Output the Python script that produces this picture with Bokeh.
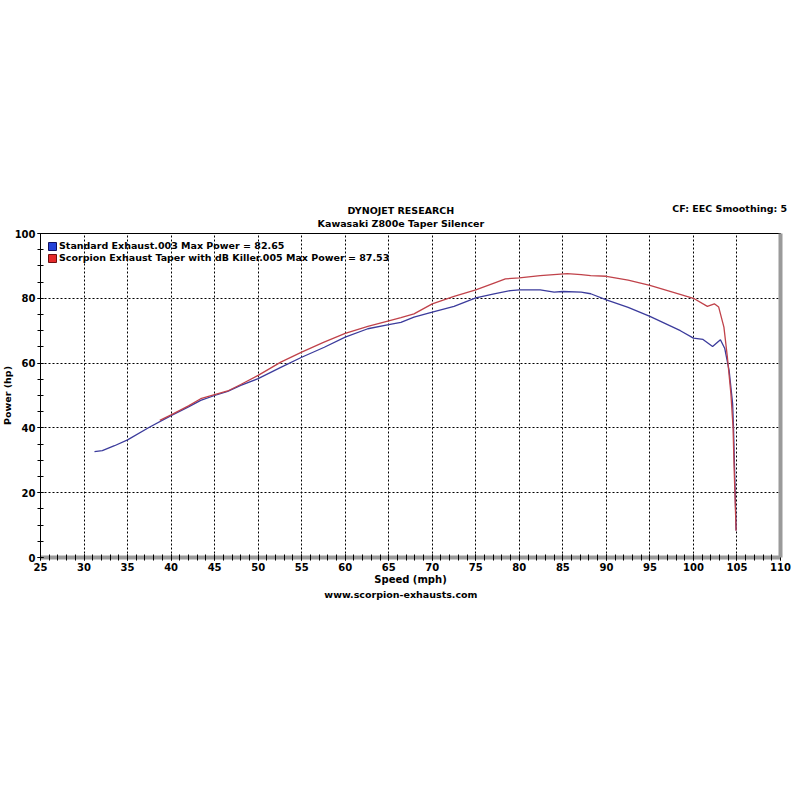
import numpy as np
from bokeh.plotting import figure
from bokeh.models import (Range1d, FixedTicker, Legend, LegendItem, Label, LinearAxis)
from bokeh.embed import file_html
from bokeh.resources import INLINE

# ---- data ----
std_speed = [31.2, 32.1, 33.5, 35.0, 37.5, 40.0, 42.0, 43.4, 45.0, 46.5, 48.0, 50.0,
             52.6, 55.0, 57.6, 60.0, 62.6, 65.0, 66.4, 67.9, 70.0, 72.5, 75.0, 77.1,
             79.0, 80.0, 82.4, 84.0, 85.0, 87.1, 88.2, 90.0, 92.5, 95.0, 98.5, 100.0,
             101.1, 102.2, 103.1, 103.6, 104.1, 104.5, 104.6, 104.8, 104.9]
std_power = [32.7, 33.0, 34.5, 36.3, 40.2, 43.8, 46.5, 48.5, 50.0, 51.3, 53.1, 55.2,
             58.7, 61.8, 64.9, 68.0, 70.6, 71.9, 72.6, 74.2, 75.7, 77.5, 80.1, 81.4,
             82.4, 82.6, 82.6, 81.9, 82.1, 81.9, 81.4, 79.5, 77.2, 74.4, 70.0, 67.7,
             67.3, 65.1, 67.2, 64.5, 57.7, 47.5, 40.2, 19.7, 8.3]

sco_speed = [38.7, 40.0, 42.0, 43.4, 45.0, 46.5, 48.0, 50.0, 52.6, 55.0, 57.5, 60.0,
             62.6, 65.0, 66.4, 67.9, 70.0, 72.5, 75.0, 77.1, 78.4, 80.0, 82.4, 85.5,
             87.1, 88.2, 90.0, 92.5, 95.0, 97.6, 100.0, 101.6, 102.4, 102.9, 103.5,
             103.9, 104.3, 104.55, 104.67, 104.9]
sco_power = [42.3, 44.0, 46.8, 49.0, 50.3, 51.4, 53.4, 56.2, 60.3, 63.4, 66.4, 69.2,
             71.3, 73.0, 74.0, 75.2, 78.3, 80.6, 82.6, 84.7, 86.0, 86.3, 87.0, 87.6,
             87.3, 87.0, 86.8, 85.6, 84.0, 81.9, 80.0, 77.5, 78.3, 77.3, 71.1,
             61.8, 50.6, 40.2, 27.9, 8.3]

x_ticks = list(range(25, 111, 5))
x_minor = list(range(25, 111, 1))
y_ticks = [0, 20, 40, 60, 80, 100]
y_minor = list(range(0, 101, 5))

std_label = "Standard Exhaust.003 Max Power = 82.65"
sco_label = "Scorpion Exhaust Taper with dB Killer.005 Max Power = 87.53"

FONT = "DejaVu Sans"

p = figure(width=800, height=800, output_backend="svg", toolbar_location=None,
           x_range=Range1d(25, 110), y_range=Range1d(0, 100),
           min_border_left=40, min_border_right=20, min_border_top=233,
           min_border_bottom=243, background_fill_color="white",
           border_fill_color="white")
p.outline_line_color = "black"
p.outline_line_width = 1

# grids
p.xgrid.ticker = FixedTicker(ticks=x_ticks)
p.ygrid.ticker = FixedTicker(ticks=y_ticks)
for g in (p.xgrid, p.ygrid):
    g.grid_line_color = "black"
    g.grid_line_dash = "2 2"
    g.grid_line_width = 1

# axes
p.xaxis.ticker = FixedTicker(ticks=x_ticks, minor_ticks=x_minor)
p.yaxis.ticker = FixedTicker(ticks=y_ticks, minor_ticks=y_minor)
for ax in (p.xaxis, p.yaxis):
    ax.major_label_text_font = FONT
    ax.major_label_text_font_style = "bold"
    ax.major_label_text_font_size = "10px"
    ax.major_label_text_color = "black"
    ax.major_tick_in = 3
    ax.major_tick_out = 3
    ax.minor_tick_in = 3
    ax.minor_tick_out = 3
    ax.major_tick_line_color = "black"
    ax.minor_tick_line_color = "black"
    ax.major_label_standoff = 2
p.xaxis.axis_line_color = "#9a9a9a"
p.xaxis.axis_line_width = 4
p.yaxis.axis_line_color = "black"
p.xaxis.axis_label = "Speed (mph)"
p.xaxis.axis_label_text_font = FONT
p.xaxis.axis_label_text_font_style = "bold"
p.xaxis.axis_label_text_font_size = "10px"
p.xaxis.axis_label_text_color = "black"
p.xaxis.axis_label_standoff = 0

right = LinearAxis(ticker=FixedTicker(ticks=[]), axis_line_color="#9a9a9a",
                   axis_line_width=4, major_label_text_alpha=0,
                   major_tick_line_color=None, minor_tick_line_color=None)
p.add_layout(right, "right")

# curves
p.line(std_speed, std_power, line_color="#3b3b9c", line_width=1.3)
p.line(sco_speed, sco_power, line_color="#c0424a", line_width=1.3)

# legend swatches (not drawn in the frame: NaN positions)
nan = [np.nan]
r_b = p.quad(left=nan, right=nan, top=nan, bottom=nan, fill_color="#2442d8",
             line_color="#101060")
r_r = p.quad(left=nan, right=nan, top=nan, bottom=nan, fill_color="#e52a2a",
             line_color="#701010")
leg = Legend(items=[LegendItem(label=std_label, renderers=[r_b]),
                    LegendItem(label=sco_label, renderers=[r_r])],
             location="top_left", glyph_width=10, glyph_height=10,
             label_height=10, spacing=1, padding=1, margin=6,
             label_standoff=2, background_fill_alpha=0, border_line_alpha=0,
             label_text_font=FONT, label_text_font_style="bold",
             label_text_font_size="9.5px", label_text_color="black")
p.add_layout(leg)

# texts (placed in the side panels so they are not clipped by the frame)
def txt(x, y, t, side, align="center", angle=0.0):
    p.add_layout(Label(x=x, y=y, text=t, text_align=align, text_baseline="middle",
                       text_font=FONT, text_font_style="bold",
                       text_font_size="9.5px", text_color="black", angle=angle), side)

txt(66.4, 107.1, "DYNOJET RESEARCH", "above")
txt(66.4, 103.1, "Kawasaki Z800e Taper Silencer", "above")
txt(111.15, 107.7, "CF: EEC  Smoothing: 5", "above", align="right")
txt(66.4, -11.4, "www.scorpion-exhausts.com", "below")
txt(21.2, 50.0, "Power (hp)", "left", angle=np.pi / 2)

open("out.html", "w").write(file_html(p, INLINE))
